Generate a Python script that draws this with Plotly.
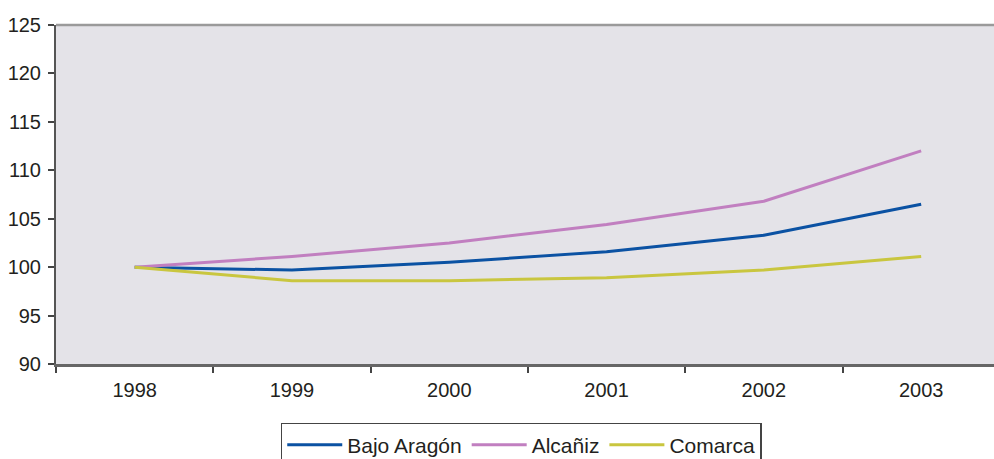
import plotly.graph_objects as go

years = ["1998", "1999", "2000", "2001", "2002", "2003"]
bajo_aragon = [100.0, 99.7, 100.5, 101.6, 103.3, 106.5]
alcaniz = [100.0, 101.1, 102.5, 104.4, 106.8, 112.0]
comarca = [100.0, 98.6, 98.6, 98.9, 99.7, 101.1]

series = [
    ("Bajo Aragón", bajo_aragon, "#0b52a3"),
    ("Alcañiz", alcaniz, "#c17fc0"),
    ("Comarca", comarca, "#c9c63f"),
]

fig = go.Figure()
for name, vals, col in series:
    fig.add_trace(go.Scatter(x=years, y=vals, name=name, mode="lines",
                             line=dict(color=col, width=3)))

font = dict(family="Liberation Sans, Arial, sans-serif", color="#231f20")

fig.update_layout(
    width=994, height=459,
    margin=dict(l=56, r=0, t=25, b=95, autoexpand=False),
    paper_bgcolor="white",
    plot_bgcolor="#e4e3e8",
    font=dict(**font, size=20),
    showlegend=True,
    legend=dict(orientation="h", x=0.496, xanchor="center", y=-0.174, yanchor="top",
                bordercolor="#444", borderwidth=1.5, bgcolor="white",
                font=dict(**font, size=21), itemwidth=55, tracegroupgap=0),
    xaxis=dict(type="category", range=[-0.5, 5.463], tickson="boundaries",
               ticks="outside", ticklen=6, tickwidth=1.5, tickcolor="#444",
               showline=True, linecolor="#666", linewidth=2.5,
               showgrid=False, ticklabelstandoff=6, zeroline=False),
    yaxis=dict(range=[90, 125], tickvals=[90, 95, 100, 105, 110, 115, 120, 125],
               ticks="outside", ticklen=6, tickwidth=1.5, tickcolor="#444",
               showline=True, linecolor="#555", linewidth=2,
               showgrid=False, zeroline=False, ticklabelstandoff=3),
    shapes=[dict(type="line", xref="paper", yref="paper", x0=0, x1=1, y0=1, y1=1,
                 line=dict(color="#9a9a9a", width=2.5))],
)

fig.write_html("out.html", config={"displayModeBar": False},
               post_script="document.body.style.margin='0';document.body.style.overflow='hidden';")
